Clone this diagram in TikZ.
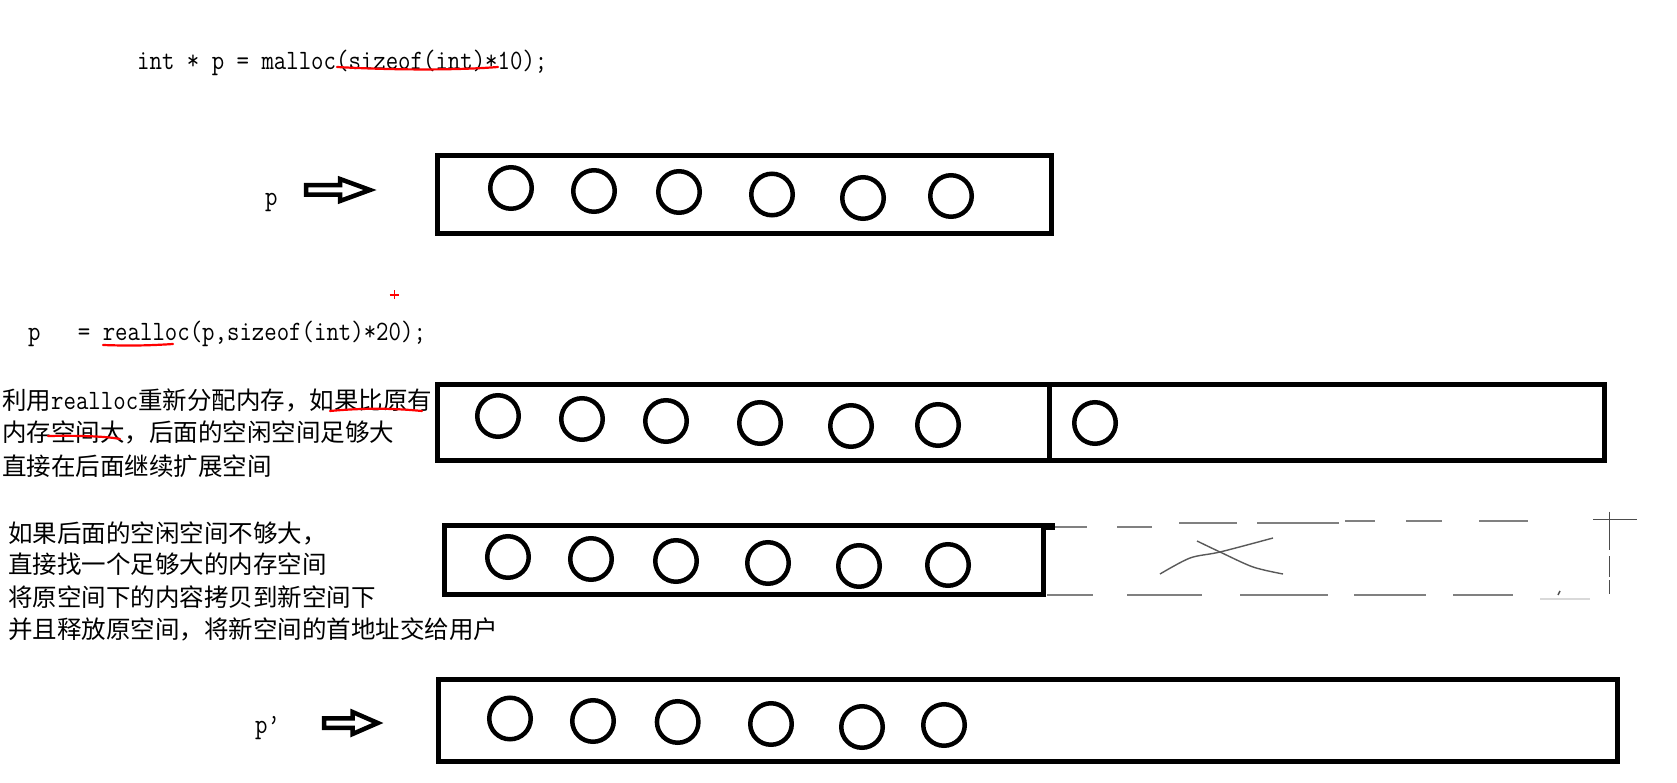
\documentclass[tikz,border=0pt]{standalone}
\usepackage{fontspec}
\newfontfamily\codefont[FakeStretch=0.862]{Latin Modern Mono}
\newfontfamily\cjkfont{Noto Sans CJK SC}
\usetikzlibrary{calc}
\tikzset{
  memblk/.style={draw, rectangle, line width=5pt, inner sep=0pt},
  cell/.style={draw, circle, line width=4.5pt, minimum size=41.5pt, inner sep=0pt},
  code/.style={inner sep=0pt, anchor=base west, font=\codefont\fontsize{28}{30}\selectfont},
  cjk/.style={inner sep=0pt, anchor=base west, font=\cjkfont\fontsize{24.5}{33}\selectfont},
  redmark/.style={draw=red, line width=2.2pt, line cap=round},
  dashseg/.style={draw=black!50, line width=2pt},
  thinmark/.style={draw=black!70, line width=1.4pt},
  scribble/.style={draw=black!65, line width=1.4pt},
  blockarrow/.pic={\draw[line width=4.5pt, line join=miter]
      (0,-4.75) -- (34,-4.75) -- (34,-11) -- (64,0) -- (34,11) -- (34,4.75) -- (0,4.75) -- cycle;}
}
\begin{document}
\begin{tikzpicture}[x=1pt, y=-1pt]
\useasboundingbox[fill=white] (0,0) rectangle (1677,783);

% ---- code line 1
\node[code] (code1) at (137,70) {int * p = malloc(sizeof(int)*10);};
\draw[redmark] (337,67) .. controls (400,70.5) and (460,70) .. (498,67);

% ---- row 1
\node[code] (plabel) at (265,206) {p};
\pic at (306,190) {blockarrow};
\node[memblk, minimum width=614pt, minimum height=78pt] (box1) at (744.5,194.7) {};
\node[cell] (c11) at (511,188) {};
\node[cell] (c12) at (594,191) {};
\node[cell] (c13) at (679,192) {};
\node[cell] (c14) at (772,194.5) {};
\node[cell] (c15) at (863,198) {};
\node[cell] (c16) at (951,196) {};

% ---- red plus
\draw[red, line width=1.6pt] (389.5,295) -- (399,295) (394.3,290.5) -- (394.3,299.5);

% ---- code line 2
\node[code] (code2) at (28,341) {p\ \ \ = realloc(p,sizeof(int)*20);};
\draw[redmark] (103,345) .. controls (130,346) and (150,345.5) .. (173,344);

% ---- text block 1
\node[cjk] (t1a) at (2,409) {利用{\codefont\fontsize{28}{33}\selectfont realloc}重新分配内存，如果比原有};
\node[cjk] (t1b) at (2,441.5) {内存空间大，后面的空闲空间足够大};
\node[cjk] (t1c) at (2,475) {直接在后面继续扩展空间};
\draw[redmark] (330,411) .. controls (362,408) and (392,408) .. (422,411);
\draw[redmark] (48,436) .. controls (75,435.5) and (105,436) .. (120,439);

% ---- row 2
\node[memblk, minimum width=1166.5pt, minimum height=75.5pt] (box2) at (1020.75,422.25) {};
\coordinate (divx) at (1049.5,0);
\draw[line width=5pt] (box2.north -| divx) -- (box2.south -| divx);
\node[cell] (c21) at (498,416) {};
\node[cell] (c22) at (582,419) {};
\node[cell] (c23) at (666,421) {};
\node[cell] (c24) at (760,423) {};
\node[cell] (c25) at (851,426) {};
\node[cell] (c26) at (938,425) {};
\node[cell] (c27) at (1095,423) {};

% ---- text block 2
\node[cjk] (t2a) at (8,542) {如果后面的空闲空间不够大，};
\node[cjk] (t2b) at (8,573) {直接找一个足够大的内存空间};
\node[cjk] (t2c) at (8,606) {将原空间下的内容拷贝到新空间下};
\node[cjk] (t2d) at (8,638) {并且释放原空间，将新空间的首地址交给用户};

% ---- row 3
\node[memblk, minimum width=599pt, minimum height=69pt] (box3) at (744,560) {};
\fill (1043,523) rectangle (1055,530);
\node[cell] (c31) at (508,557) {};
\node[cell] (c32) at (591,559) {};
\node[cell] (c33) at (676,561) {};
\node[cell] (c34) at (768,563) {};
\node[cell] (c35) at (859,566) {};
\node[cell] (c36) at (948,565) {};

% dashed outline of the missing space
\draw[dashseg] (1055,526.7) -- (1087,526.7) (1117,526.7) -- (1152,526.7)
  (1179,523.3) -- (1237,523.3) (1257,523.3) -- (1339,523.3)
  (1345,520.7) -- (1375,520.7) (1406,520.7) -- (1442,520.7) (1479,520.7) -- (1528,520.7);
\draw[dashseg] (1047,595) -- (1093,595) (1127,595) -- (1202,595) (1240,595) -- (1328,595)
  (1354,595) -- (1426,595) (1453,595) -- (1513,595);
\draw[thinmark] (1593,519.3) -- (1637,519.3);
\draw[thinmark] (1609.4,511.7) -- (1609.4,550) (1609.4,556) -- (1609.4,577) (1609.4,580) -- (1609.4,594);
\draw[thinmark] (1558,595) -- (1560,591);
\draw[black!15, line width=2pt] (1540,599) -- (1590,599);
% crossing scribbles
\draw[scribble] plot[smooth] coordinates {(1160,574) (1190,558) (1220,552) (1273,538)};
\draw[scribble] plot[smooth] coordinates {(1197,541) (1220,552) (1253,567) (1283,574)};

% ---- row 4
\node[code] (pplabel) at (255,733) {p’};
\pic[xscale=0.84] at (324,723) {blockarrow};
\node[memblk, minimum width=1178.5pt, minimum height=82.5pt] (box4) at (1027.75,720.25) {};
\node[cell] (c41) at (510,718.5) {};
\node[cell] (c42) at (593,721) {};
\node[cell] (c43) at (677.7,722) {};
\node[cell] (c44) at (771,724) {};
\node[cell] (c45) at (862,727) {};
\node[cell] (c46) at (944,725) {};
\end{tikzpicture}
\end{document}
